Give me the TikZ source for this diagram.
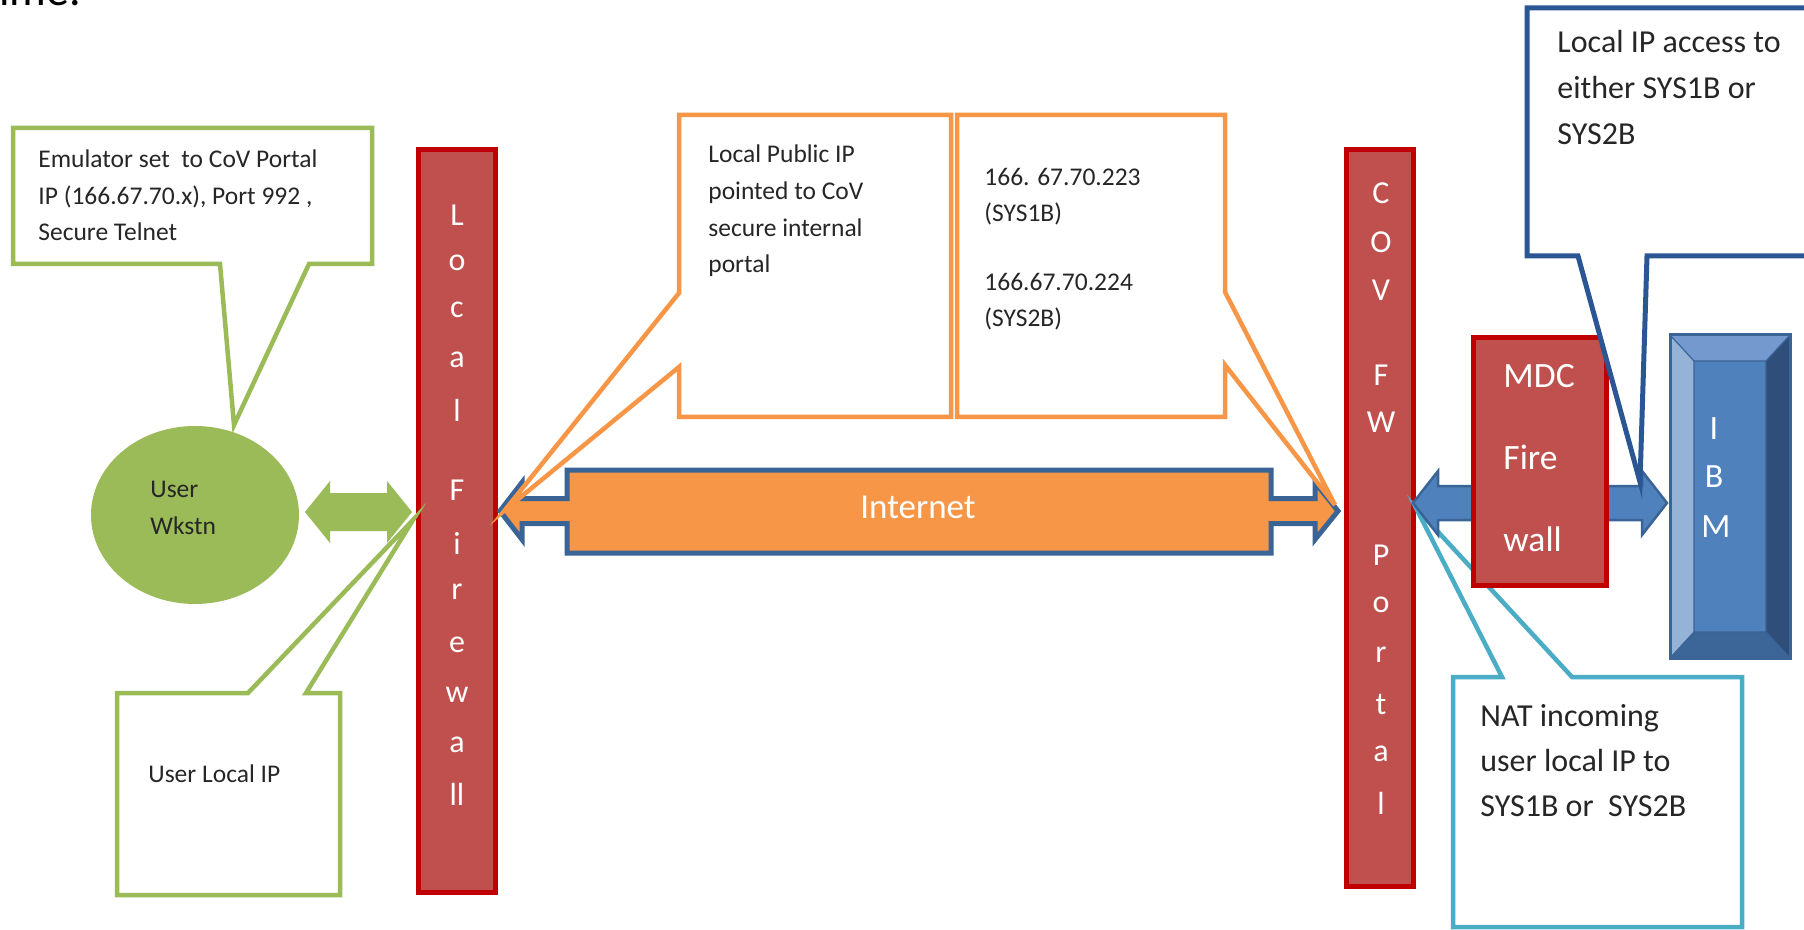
\documentclass[tikz,border=0pt]{standalone}
\usepackage{fontspec}
\setmainfont{Carlito}
\definecolor{ogreen}{HTML}{9BBB59}
\definecolor{ored}{HTML}{C0504D}
\definecolor{dred}{HTML}{C00000}
\definecolor{oorange}{HTML}{F79646}
\definecolor{oblue}{HTML}{4F81BD}
\definecolor{dblue}{HTML}{3A6396}
\definecolor{cblue}{HTML}{2A5794}
\definecolor{ocyan}{HTML}{4BACC6}
\definecolor{txtcol}{HTML}{262626}
\definecolor{bvtop}{HTML}{7399CF}
\definecolor{bvleft}{HTML}{95B3D7}
\definecolor{bvright}{HTML}{2F4F7A}
\definecolor{bvbot}{HTML}{3C6698}
\tikzset{
  txt/.style={anchor=base west, inner sep=0pt, text=txtcol, font=\fontsize{12.75}{15}\selectfont},
  txtb/.style={txt, font=\fontsize{16}{19}\selectfont},
  barletter/.style={anchor=center, inner sep=0pt, text=white, font=\fontsize{16}{19}\selectfont},
  wtxt/.style={anchor=base west, inner sep=0pt, text=white, font=\fontsize{17.8}{21}\selectfont},
  callout/.style={fill=white, line width=2.25pt, line join=miter},
  redbar/.style={fill=ored, draw=dred, line width=2.5pt},
}
\begin{document}
\begin{tikzpicture}[x=0.5pt,y=-0.5pt]
\useasboundingbox (0,0) rectangle (1804,930);

% cut-off title text
\node[anchor=base west, inner sep=0pt, text=black, font=\fontsize{23}{27}\selectfont] (title) at (-1,6) {ime.};

% top green callout
\draw[callout, draw=ogreen] (13,128) -- (372,128) -- (372,264) -- (309,264) -- (234,425) -- (220,264) -- (13,264) -- cycle;
\node[txt] (e1) at (38,168) {Emulator set\ \ to CoV Portal};
\node[txt] (e2) at (38,205) {IP (166.67.70.x), Port 992 ,};
\node[txt] (e3) at (38,241) {Secure Telnet};

% user workstation
\fill[ogreen] (195,515) ellipse [x radius=104, y radius=89];
\node[txt] (u1) at (150,497) {User};
\node[txt] (u2) at (150,534) {Wkstn};

% green double arrow
\fill[ogreen] (305,512) -- (330,481) -- (330,493) -- (387,493) -- (387,481) -- (412,512)
  -- (387,543) -- (387,531) -- (330,531) -- (330,543) -- cycle;

% local firewall bar
\draw[redbar] (418,150) rectangle (495,892);
\foreach \l/\y [count=\i] in {L/215,o/263,c/310,a/360,l/410,F/490,i/543,r/592,e/645,w/695,a/745,ll/794}
  \node[barletter] (lf\i) at (457,\y) {\l};

% COV FW portal bar
\draw[redbar] (1346,150) rectangle (1413,886);
\foreach \l/\y [count=\i] in {C/193,O/242,V/290,F/375,W/422,P/555,o/605,r/655,t/704,a/754,l/803}
  \node[barletter] (cf\i) at (1381,\y) {\l};

% Internet arrow callout
\draw[fill=oorange, draw=dblue, line width=2.5pt, line join=miter]
  (500,511) -- (522,482.5) -- (522,498.5) -- (567,498.5) -- (567,470) -- (1271,470)
  -- (1271,498.5) -- (1315,498.5) -- (1315,482.5) -- (1338,511) -- (1315,539.5)
  -- (1315,523.5) -- (1271,523.5) -- (1271,553) -- (567,553) -- (567,523.5)
  -- (522,523.5) -- (522,539.5) -- cycle;
\node[anchor=base, inner sep=0pt, text=white, font=\fontsize{17.5}{21}\selectfont] (inet) at (918,518) {Internet};

% orange callouts
\draw[callout, draw=oorange] (679,115) -- (951,115) -- (951,417) -- (679,417) -- (679,367) -- (505,510) -- (679,293) -- cycle;
\node[txt] (o1) at (708,163) {Local Public IP};
\node[txt] (o2) at (708,200) {pointed to CoV};
\node[txt] (o3) at (708,237) {secure internal};
\node[txt] (o4) at (708,273) {portal};

\draw[callout, draw=oorange] (957,115) -- (1225,115) -- (1225,292) -- (1335,505) -- (1225,365) -- (1225,417) -- (957,417) -- cycle;
\node[txt] (p1) at (984,186) {166. 67.70.223};
\node[txt] (p2) at (984,222) {(SYS1B)};
\node[txt] (p3) at (984,291) {166.67.70.224};
\node[txt] (p4) at (984,327) {(SYS2B)};

% bottom green callout
\draw[callout, draw=ogreen] (117,693) -- (248,693) -- (413,520) -- (306,693) -- (340,693) -- (340,895) -- (117,895) -- cycle;
\node[txt] (g1) at (148,782) {User Local IP};

% cyan callout
\draw[callout, draw=ocyan] (1453,677) -- (1502,677) -- (1416,508) -- (1572,677) -- (1742,677) -- (1742,927) -- (1453,927) -- cycle;
\node[txtb] (n1) at (1480,726) {NAT incoming};
\node[txtb] (n2) at (1480,771) {user local IP to};
\node[txtb] (n3) at (1480,816) {SYS1B or\ \ SYS2B};

% blue double arrow
\draw[fill=oblue, draw=dblue, line width=1.25pt, line join=miter]
  (1413,503) -- (1438,471) -- (1438,486) -- (1642,486) -- (1642,471) -- (1667,503)
  -- (1642,535) -- (1642,520) -- (1438,520) -- (1438,535) -- cycle;

% MDC firewall
\draw[redbar] (1473,338) rectangle (1606,585);
\node[wtxt] (m1) at (1503,388) {MDC};
\node[wtxt] (m2) at (1503,470) {Fire};
\node[wtxt] (m3) at (1503,551) {wall};

% IBM bevel box
\fill[bvtop] (1670,335) -- (1790,335) -- (1766,361) -- (1694,361) -- cycle;
\fill[bvleft] (1670,335) -- (1694,361) -- (1694,632) -- (1670,658) -- cycle;
\fill[bvright] (1790,335) -- (1790,658) -- (1766,632) -- (1766,361) -- cycle;
\fill[bvbot] (1670,658) -- (1790,658) -- (1766,632) -- (1694,632) -- cycle;
\fill[oblue] (1694,361) rectangle (1766,632);
\draw[dblue, line width=0.6pt] (1694,361) rectangle (1766,632)
  (1670,335) -- (1694,361) (1790,335) -- (1766,361) (1670,658) -- (1694,632) (1790,658) -- (1766,632);
\draw[dblue, line width=1.5pt] (1670,335) rectangle (1790,658);
\node[barletter, font=\fontsize{17}{20}\selectfont] (ib1) at (1714,429) {I};
\node[barletter, font=\fontsize{17}{20}\selectfont] (ib2) at (1714,477) {B};
\node[barletter, font=\fontsize{17}{20}\selectfont] (ib3) at (1716,527) {M};

% top-right blue callout
\draw[callout, draw=cblue, line width=2.5pt] (1527,8) -- (1840,8) -- (1840,256) -- (1647,256) -- (1640,482) -- (1578,256) -- (1527,256) -- cycle;
\node[txtb] (b1) at (1557,53) {Local IP access to};
\node[txtb] (b2) at (1557,99) {either SYS1B or};
\node[txtb] (b3) at (1557,145) {SYS2B};
\end{tikzpicture}
\end{document}
